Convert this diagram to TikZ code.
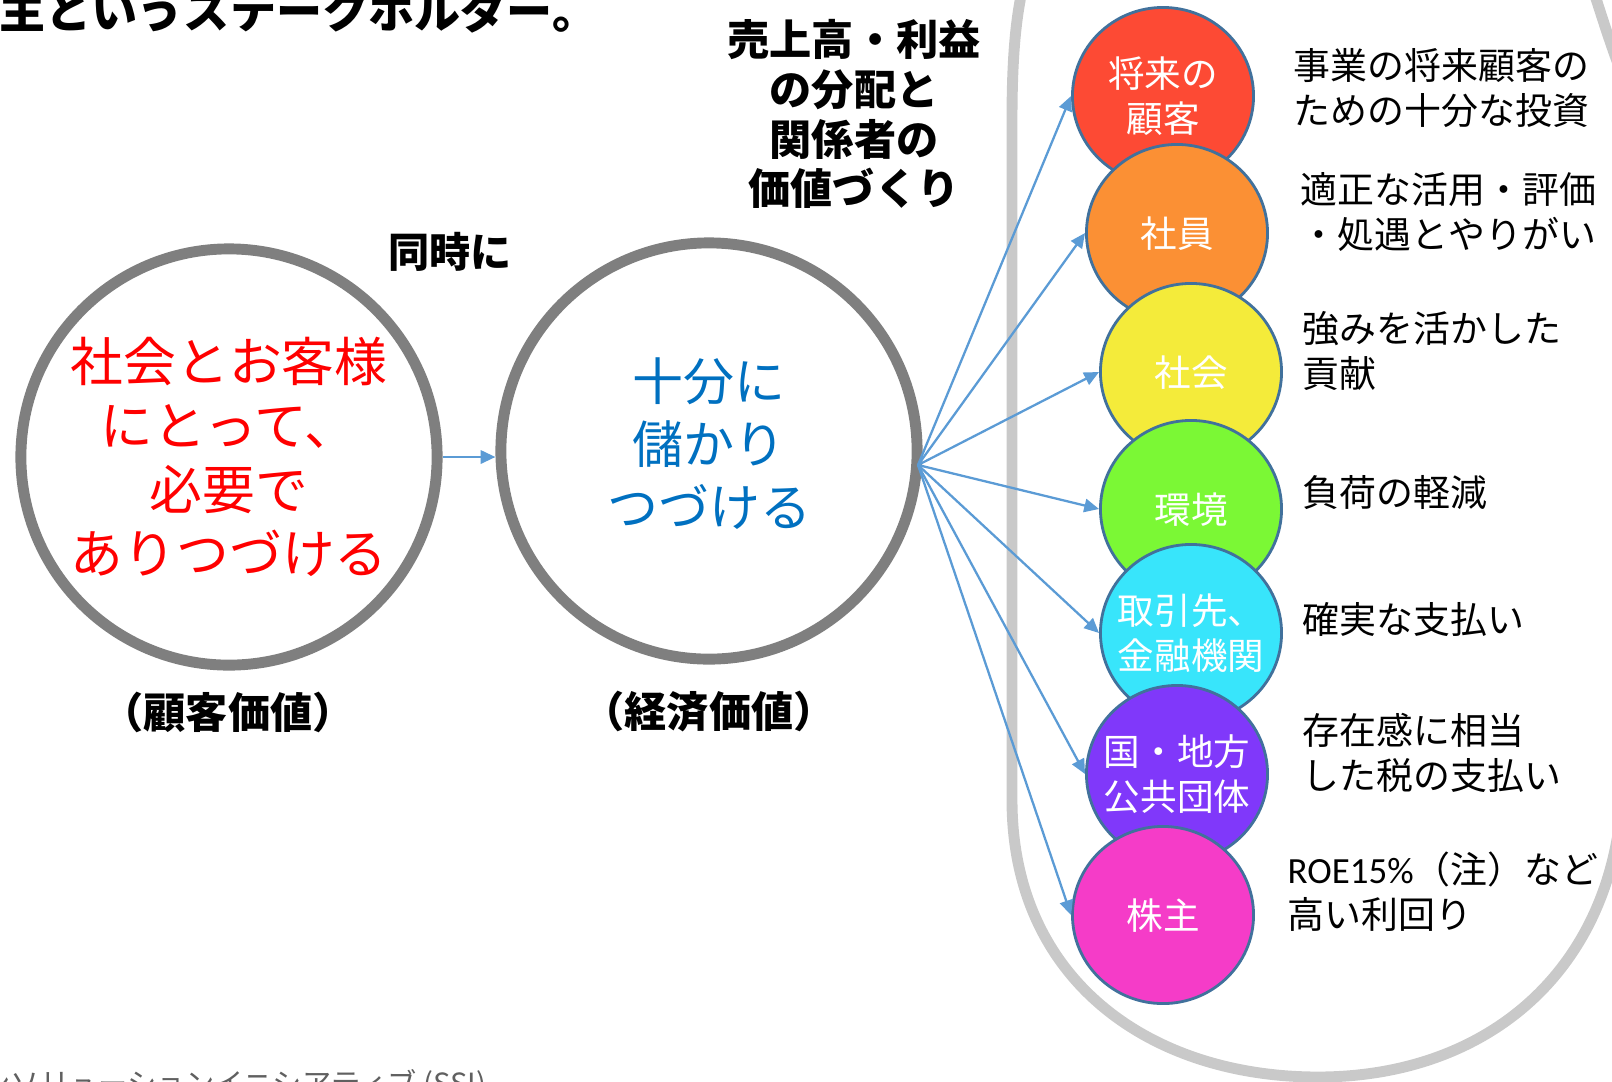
\documentclass[tikz,border=0pt]{standalone}
\usepackage{fontspec}
\setmainfont{Noto Sans CJK JP}
\newfontfamily\latinfont{Carlito}
\usetikzlibrary{arrows.meta,shapes.geometric}
\definecolor{ringgray}{HTML}{7F7F7F}
\definecolor{ugray}{HTML}{C9C9C9}
\definecolor{arrblue}{HTML}{5B9BD5}
\definecolor{edgeblue}{HTML}{41719C}
\definecolor{textred}{HTML}{FF0000}
\definecolor{textblue}{HTML}{0070C0}
\definecolor{footgray}{HTML}{606060}
\definecolor{cA}{HTML}{FD4A34}
\definecolor{cB}{HTML}{FB9034}
\definecolor{cC}{HTML}{F4EB3A}
\definecolor{cD}{HTML}{7BF835}
\definecolor{cE}{HTML}{38E5FB}
\definecolor{cF}{HTML}{8038FA}
\definecolor{cG}{HTML}{F53CC8}
\newcommand{\zerowidthtext}[1]{\makebox[0pt]{\raisebox{-4pt}[0pt][0pt]{\begin{tabular}{@{}c@{}}#1\end{tabular}}}}
\begin{document}
\begin{tikzpicture}[x=0.01cm,y=-0.01cm,
  ringnode/.style={circle, draw=ringgray, line width=3.1pt, minimum size=4.16cm, inner sep=0pt, align=center},
  arrowline/.style={draw=arrblue, line width=0.65pt, -{Triangle[length=4.2pt,width=3.8pt]}},
  stakenode/.style={ellipse, draw=edgeblue, line width=0.8pt, minimum width=1.81cm, minimum height=1.77cm, inner sep=0pt, text=white, font=\fontsize{10.4}{12.8}\selectfont},
  desctext/.style={anchor=west, align=left, inner sep=0pt, font=\fontsize{10.5}{12.7}\selectfont},
  boldlabel/.style={inner sep=0pt, align=center, font=\bfseries\fontsize{12}{14.2}\selectfont},
  ushapeline/.style={draw=ugray, line width=3.1pt}
]
\useasboundingbox (0,0) rectangle (1612,1081);

% large gray enclosure
\draw[ushapeline] (1040,-60) .. controls (1018,-20) and (1012,40) .. (1012,120) -- (1012,800)
  .. controls (1012,980) and (1150,1077) .. (1318,1077)
  .. controls (1480,1077) and (1600,980) .. (1620,820);
\draw[ushapeline] (1628,90) .. controls (1612,50) and (1603,20) .. (1590,-20);

% top and bottom cut-off texts
\node[anchor=west, inner sep=0pt, font=\bfseries\fontsize{13.1}{15}\selectfont] (title) at (-1,11) {主というステークホルダー。};
\node[anchor=west, inner sep=0pt, text=footgray, font=\fontsize{8.3}{10}\selectfont] (footer) at (-19,1085) {ンソリューションイニシアティブ (SSI)};

% two main circles
\node[ringnode, text=textred, font=\fontsize{15}{18.2}\selectfont] (cust) at (229,457) {社会とお客様\\にとって、\\必要で\\ありつづける};
\node[ringnode, text=textblue, font=\fontsize{14.5}{18}\selectfont] (econ) at (709,451) {\raisebox{2pt}{\begin{tabular}{@{}c@{}}十分に\\儲かり\\つづける\end{tabular}}};
\draw[arrowline] (cust.east) -- (cust.east -| econ.west);

% labels
\node[boldlabel, font=\bfseries\fontsize{11.7}{13}\selectfont] (simul) at (450,252) {同時に};
\node[boldlabel] (custval) at (228,712) {（顧客価値）};
\node[boldlabel] (econval) at (709,712) {（経済価値）};
\node[boldlabel] (dist) at (854,114) {売上高・利益\\の分配と\\関係者の\\価値づくり};

% stakeholders
\node[stakenode, fill=cA] (s1) at (1163,96) {\zerowidthtext{将来の\\顧客}};
\node[stakenode, fill=cB] (s2) at (1177,233) {\zerowidthtext{社員}};
\node[stakenode, fill=cC] (s3) at (1191,372) {\zerowidthtext{社会}};
\node[stakenode, fill=cD] (s4) at (1191,509) {\zerowidthtext{環境}};
\node[stakenode, fill=cE] (s5) at (1191,633) {\zerowidthtext{取引先、\\金融機関}};
\node[stakenode, fill=cF] (s6) at (1177,774) {\zerowidthtext{国・地方\\公共団体}};
\node[stakenode, fill=cG] (s7) at (1163,915) {\zerowidthtext{株主}};

% fan of arrows
\coordinate (fan) at (918,465);
\foreach \i in {1,...,7} \draw[arrowline] (fan) -- (s\i.west);

% descriptions
\node[desctext] (d1) at (1293,88) {事業の将来顧客の\\ための十分な投資};
\node[desctext] (d2) at (1300,212) {適正な活用・評価\\・処遇とやりがい};
\node[desctext] (d3) at (1302,351) {強みを活かした\\貢献};
\node[desctext] (d4) at (1302,493) {負荷の軽減};
\node[desctext] (d5) at (1302,619) {確実な支払い};
\node[desctext] (d6) at (1302,753) {存在感に相当\\した税の支払い};
\node[desctext] (d7) at (1287,892) {{\latinfont ROE15\%}（注）など\\高い利回り};
\end{tikzpicture}
\end{document}
